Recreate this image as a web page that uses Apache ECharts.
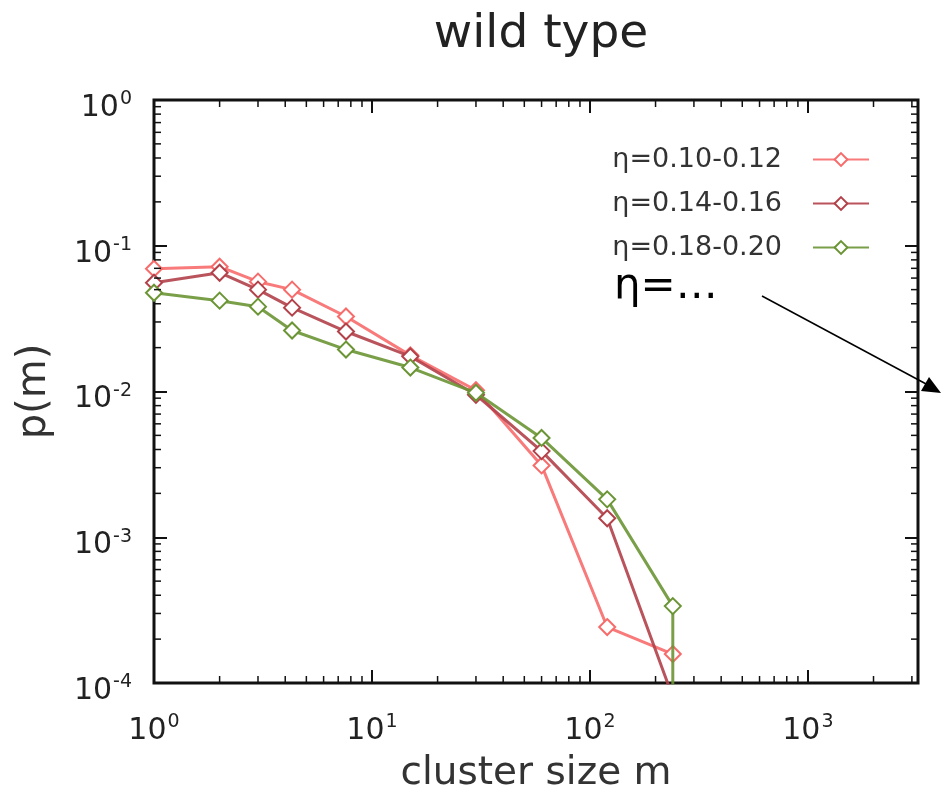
<!DOCTYPE html>
<html>
<head>
<meta charset="utf-8">
<script src="https://cdn.jsdelivr.net/npm/echarts@6/dist/echarts.min.js"></script>
<style>
  html, body { margin:0; padding:0; background:#fff; }
  #chart { width:941px; height:794px; }
</style>
</head>
<body>
<div id="chart"></div>
<script>
// cluster sizes and p(m) for each eta band
const sizes = [1, 2, 3, 4.3, 7.6, 15, 30, 60, 120, 240];
const etaLow = [0.0696, 0.0718, 0.0567, 0.050, 0.0327, 0.0177, 0.0102, 0.00311, 0.000242, 0.000158];
const etaMid = [0.0558, 0.0653, 0.050, 0.0376, 0.0258, 0.0174, 0.0095, 0.0039, 0.00135, 0.00008];
const etaHigh = [0.0476, 0.042, 0.0382, 0.0262, 0.0194, 0.0146, 0.0098, 0.0048, 0.00182, 0.000337];
// green curve drops straight down past the axis at its last size
const etaHighTail = [240, 0.00001];
const seriesNames = ['η=0.10-0.12', 'η=0.14-0.16', 'η=0.18-0.20'];
const colors = ['#f76b6b', '#b3414a', '#6b9535'];

const chart = echarts.init(document.getElementById('chart'));
const font = 'DejaVu Sans';

const pairs = (ys) => sizes.map((x, i) => [x, ys[i]]);
const powLabel = (v) => {
  const e = Math.round(Math.log10(v));
  return '{b|10}{s|' + (e < 0 ? '-' + (-e) : e) + '}';
};
const richLbl = {
  b: { fontFamily: font, fontSize: 30, color: '#222' },
  s: { fontFamily: font, fontSize: 19, color: '#222', padding: [0, 0, 17, 1] }
};

const mkSeries = (i, data) => ({
  name: seriesNames[i],
  type: 'line',
  data: data,
  symbol: 'emptyDiamond',
  symbolSize: 16,
  color: colors[i],
  lineStyle: { width: 3, color: colors[i], opacity: 0.9 },
  itemStyle: { borderWidth: 2.5 },
  clip: true,
  z: 3 + i
});

const highData = pairs(etaHigh);
highData.push({ value: etaHighTail, symbolSize: 0 });

chart.setOption({
  animation: false,
  backgroundColor: '#fff',
  title: {
    text: 'wild type', left: 536, top: 6, textAlign: 'center',
    textStyle: { fontFamily: font, fontSize: 47, fontWeight: 'normal', color: '#222' }
  },
  legend: {
    orient: 'vertical', right: 66, top: 141, align: 'right',
    itemWidth: 56, itemHeight: 16, itemGap: 17,
    textStyle: { fontFamily: font, fontSize: 27, color: '#333', padding: [0, 26, 0, 0] },
    data: seriesNames
  },
  grid: {
    left: 154, right: 23, top: 100, bottom: 111,
    outerBoundsMode: 'none', containLabel: false,
    show: true, borderColor: '#111', borderWidth: 3, backgroundColor: '#fff'
  },
  xAxis: [{
    type: 'log', min: 1, max: 3200, logBase: 10,
    name: 'cluster size m', nameLocation: 'middle', nameGap: 71,
    nameTextStyle: { fontFamily: font, fontSize: 39, color: '#333' },
    axisLine: { show: false },
    axisTick: { inside: true, length: 13, lineStyle: { color: '#111', width: 2 } },
    axisLabel: { formatter: powLabel, rich: richLbl, margin: 30, showMaxLabel: false },
    splitLine: { show: false }
  }, {
    type: 'log', min: 1, max: 3200, position: 'top',
    axisLine: { show: false },
    axisTick: { inside: true, length: 13, lineStyle: { color: '#111', width: 2 } },
    axisLabel: { show: false }, splitLine: { show: false }
  }],
  yAxis: [{
    type: 'log', min: 0.0001, max: 1, logBase: 10,
    name: 'p(m)', nameLocation: 'middle', nameGap: 99, nameRotate: 90,
    nameTextStyle: { fontFamily: font, fontSize: 40, color: '#333' },
    axisLine: { show: false },
    axisTick: { inside: true, length: 13, lineStyle: { color: '#111', width: 2 } },
    axisLabel: { formatter: powLabel, rich: richLbl, margin: 22, padding: [16, 0, 0, 0] },
    splitLine: { show: false }
  }, {
    type: 'log', min: 0.0001, max: 1, position: 'right',
    axisLine: { show: false },
    axisTick: { inside: true, length: 13, lineStyle: { color: '#111', width: 2 } },
    axisLabel: { show: false }, splitLine: { show: false }
  }],
  series: [
    mkSeries(0, pairs(etaLow)),
    mkSeries(1, pairs(etaMid)),
    mkSeries(2, highData)
  ]
});

// minor log ticks on all four sides, placed through the axis scales
const g = [];
const tickStyle = { stroke: '#111', lineWidth: 1.5 };
const x0 = chart.convertToPixel({ xAxisIndex: 0 }, 1);
const x1 = chart.convertToPixel({ xAxisIndex: 0 }, 3200);
const yb = chart.convertToPixel({ yAxisIndex: 0 }, 0.0001);
const yt = chart.convertToPixel({ yAxisIndex: 0 }, 1);
for (let k = 0; k <= 3; k++) {
  for (let d = 2; d <= 9; d++) {
    const v = d * Math.pow(10, k);
    if (v >= 3200) continue;
    const px = chart.convertToPixel({ xAxisIndex: 0 }, v);
    g.push({ type: 'line', shape: { x1: px, y1: yb, x2: px, y2: yb - 7 }, style: tickStyle, z: 10 });
    g.push({ type: 'line', shape: { x1: px, y1: yt, x2: px, y2: yt + 7 }, style: tickStyle, z: 10 });
  }
}
for (let k = -4; k <= -1; k++) {
  for (let d = 2; d <= 9; d++) {
    const py = chart.convertToPixel({ yAxisIndex: 0 }, d * Math.pow(10, k));
    g.push({ type: 'line', shape: { x1: x0, y1: py, x2: x0 + 7, y2: py }, style: tickStyle, z: 10 });
    g.push({ type: 'line', shape: { x1: x1, y1: py, x2: x1 - 7, y2: py }, style: tickStyle, z: 10 });
  }
}
// annotation "η=…" with arrow
g.push({
  type: 'text', left: 614, top: 266, z: 20,
  style: { text: 'η=…', font: '42px "DejaVu Sans"', fill: '#000' }
});
g.push({ type: 'line', shape: { x1: 762, y1: 296, x2: 928, y2: 385 }, style: { stroke: '#000', lineWidth: 1.5 }, z: 20 });
g.push({ type: 'polygon', shape: { points: [[941, 393], [921, 391], [929, 377]] }, style: { fill: '#000' }, z: 20 });
chart.setOption({ graphic: g });
</script>
</body>
</html>
